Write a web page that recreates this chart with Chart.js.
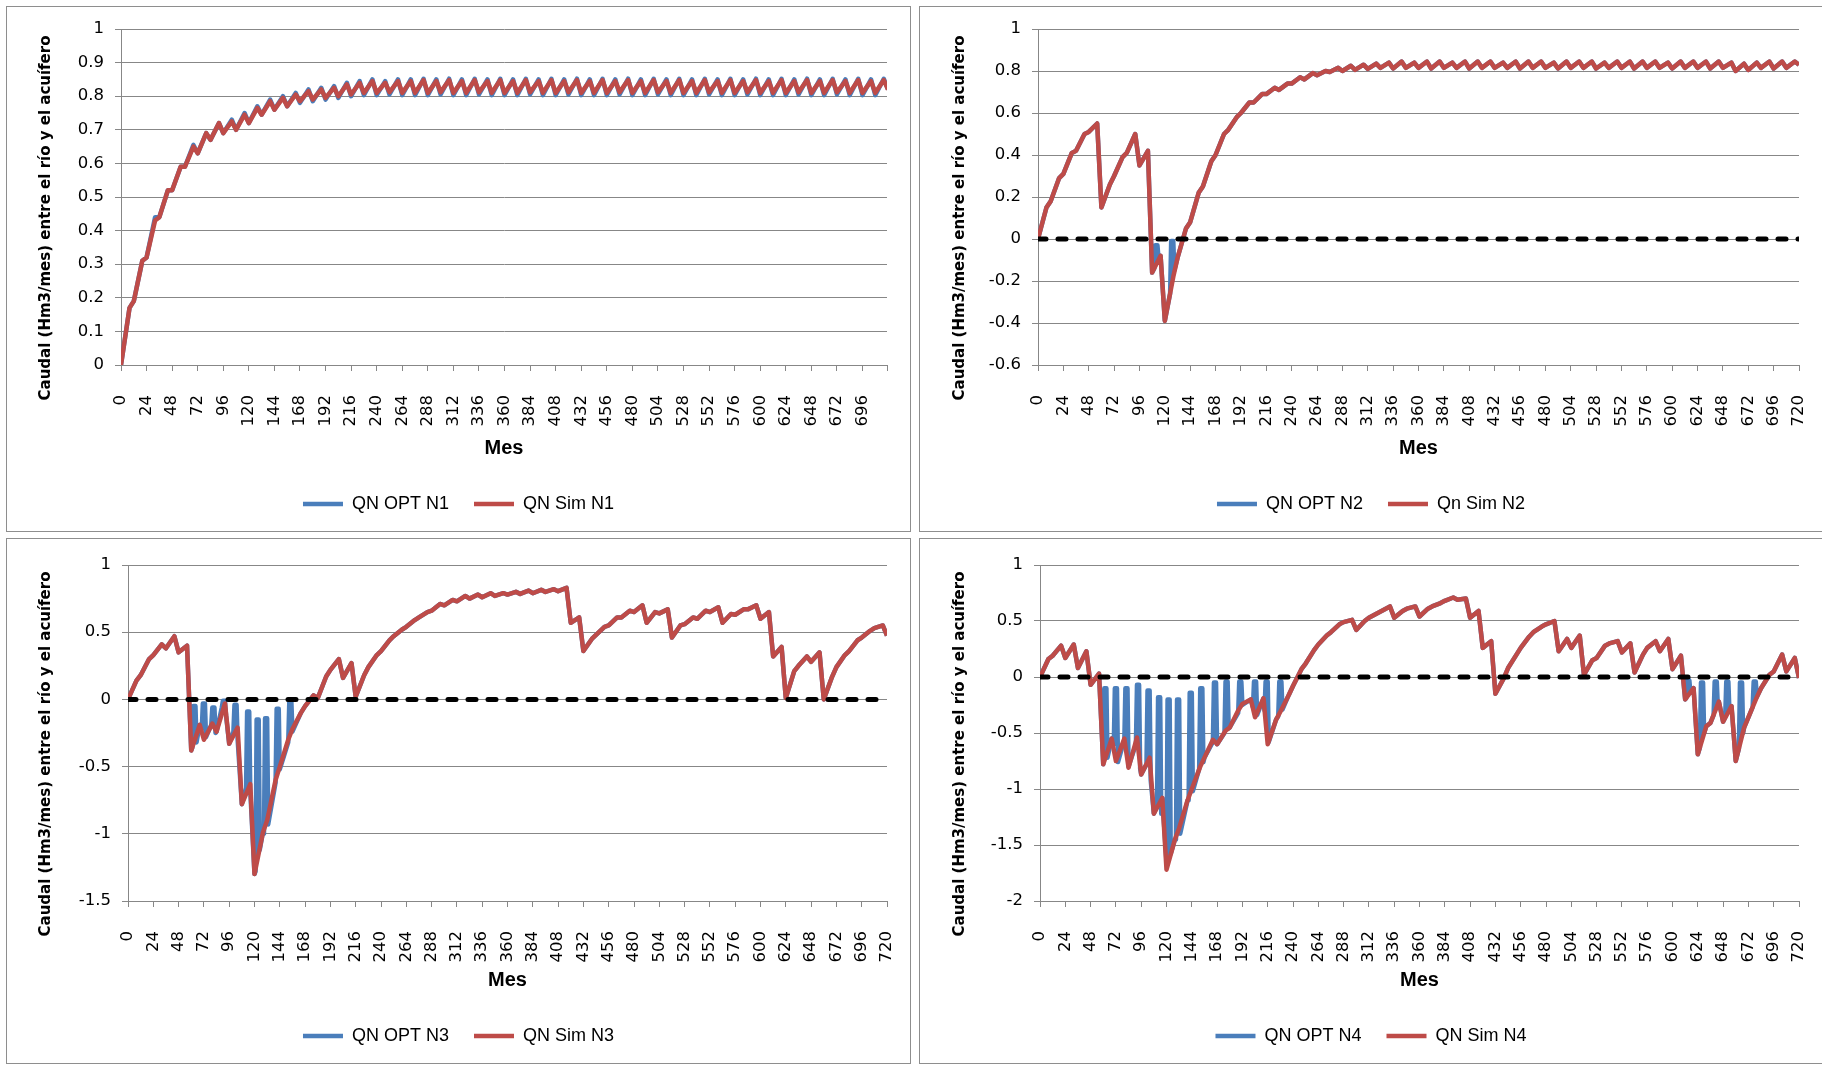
<!DOCTYPE html>
<html lang="es">
<head>
<meta charset="utf-8">
<title>Caudal entre el río y el acuífero</title>
<script src="https://cdn.jsdelivr.net/npm/chart.js@4.4.1/dist/chart.umd.min.js"></script>
<style>
  html, body { margin: 0; padding: 0; background: #fff; }
  body { width: 1822px; height: 1066px; position: relative; overflow: hidden; }
  .panel { position: absolute; box-sizing: border-box; border: 1px solid #8e8e8e; background: #fff; }
  .panel canvas { display: block; }
</style>
</head>
<body>
<div class="panel" style="left:6px;top:6px;width:905px;height:526px"><canvas id="graficoN1" width="903" height="524"></canvas></div>
<div class="panel" style="left:919px;top:6px;width:905px;height:526px"><canvas id="graficoN2" width="903" height="524"></canvas></div>
<div class="panel" style="left:6px;top:538px;width:905px;height:526px"><canvas id="graficoN3" width="903" height="524"></canvas></div>
<div class="panel" style="left:919px;top:538px;width:905px;height:526px"><canvas id="graficoN4" width="903" height="524"></canvas></div>
<script>
// Marcas del eje X (mes)
const mesTicks = [0, 24, 48, 72, 96, 120, 144, 168, 192, 216, 240, 264, 288, 312, 336, 360,
  384, 408, 432, 456, 480, 504, 528, 552, 576, 600, 624, 648, 672, 696, 720];

// Series: pares [valle, pico] por año (valle en el mes 12*año, pico en 12*año+8), último valor en el mes 720
const simN1 = [
  0.00, 0.17, 0.19, 0.31, 0.32, 0.43, 0.44, 0.52, 0.52, 0.59, 0.59, 0.65,
  0.63, 0.69, 0.67, 0.72, 0.69, 0.725, 0.70, 0.745, 0.72, 0.765, 0.745, 0.785,
  0.76, 0.795, 0.77, 0.805, 0.785, 0.815, 0.79, 0.82, 0.795, 0.825, 0.80, 0.835,
  0.805, 0.84, 0.81, 0.845, 0.81, 0.84, 0.812, 0.845, 0.81, 0.845, 0.81, 0.848,
  0.81, 0.845, 0.812, 0.848, 0.81, 0.845, 0.81, 0.848, 0.812, 0.845, 0.81, 0.848,
  0.81, 0.845, 0.81, 0.848, 0.812, 0.845, 0.81, 0.848, 0.81, 0.845, 0.812, 0.848,
  0.81, 0.845, 0.81, 0.848, 0.81, 0.845, 0.812, 0.848, 0.81, 0.845, 0.81, 0.848,
  0.812, 0.845, 0.81, 0.848, 0.81, 0.845, 0.81, 0.848, 0.812, 0.845, 0.81, 0.848,
  0.81, 0.845, 0.812, 0.848, 0.81, 0.845, 0.81, 0.848, 0.81, 0.845, 0.812, 0.848,
  0.81, 0.845, 0.81, 0.848, 0.812, 0.845, 0.81, 0.848, 0.81, 0.845, 0.81, 0.848,
  0.82
];
const optN1 = [
  0.00, 0.17, 0.19, 0.31, 0.32, 0.44, 0.44, 0.52, 0.52, 0.59, 0.59, 0.655,
  0.63, 0.69, 0.67, 0.72, 0.69, 0.73, 0.70, 0.75, 0.72, 0.77, 0.745, 0.79,
  0.76, 0.80, 0.77, 0.81, 0.78, 0.82, 0.785, 0.825, 0.79, 0.83, 0.795, 0.84,
  0.80, 0.845, 0.803, 0.85, 0.803, 0.845, 0.805, 0.85, 0.803, 0.85, 0.803, 0.852,
  0.803, 0.85, 0.805, 0.852, 0.803, 0.85, 0.803, 0.852, 0.805, 0.85, 0.803, 0.852,
  0.803, 0.85, 0.803, 0.852, 0.805, 0.85, 0.803, 0.852, 0.803, 0.85, 0.805, 0.852,
  0.803, 0.85, 0.803, 0.852, 0.803, 0.85, 0.805, 0.852, 0.803, 0.85, 0.803, 0.852,
  0.805, 0.85, 0.803, 0.852, 0.803, 0.85, 0.803, 0.852, 0.805, 0.85, 0.803, 0.852,
  0.803, 0.85, 0.805, 0.852, 0.803, 0.85, 0.803, 0.852, 0.803, 0.85, 0.805, 0.852,
  0.803, 0.85, 0.803, 0.852, 0.805, 0.85, 0.803, 0.852, 0.803, 0.85, 0.803, 0.852,
  0.82
];

const simN2 = [
  0.00, 0.15, 0.18, 0.29, 0.31, 0.41, 0.42, 0.50, 0.51, 0.55, 0.15, 0.26,
  0.30, 0.39, 0.41, 0.50, 0.35, 0.42, -0.16, -0.08, -0.39, -0.18, -0.09, 0.05,
  0.08, 0.22, 0.25, 0.37, 0.40, 0.50, 0.52, 0.58, 0.60, 0.65, 0.65, 0.69,
  0.69, 0.72, 0.71, 0.74, 0.74, 0.77, 0.76, 0.79, 0.78, 0.80, 0.795, 0.815,
  0.80, 0.825, 0.805, 0.83, 0.81, 0.835, 0.815, 0.84, 0.812, 0.845, 0.815, 0.84,
  0.815, 0.845, 0.812, 0.845, 0.815, 0.84, 0.815, 0.845, 0.812, 0.845, 0.815, 0.845,
  0.815, 0.84, 0.815, 0.845, 0.812, 0.845, 0.815, 0.845, 0.815, 0.84, 0.812, 0.845,
  0.815, 0.845, 0.815, 0.845, 0.812, 0.84, 0.815, 0.845, 0.815, 0.845, 0.812, 0.845,
  0.815, 0.845, 0.815, 0.84, 0.812, 0.845, 0.815, 0.845, 0.815, 0.845, 0.812, 0.845,
  0.815, 0.84, 0.80, 0.835, 0.805, 0.84, 0.815, 0.845, 0.812, 0.845, 0.815, 0.845,
  0.83
];
// Tramos en que QN OPT se separa de QN Sim: mes del tramo alto, valor antes, valor alto, valor después
const picoMesN2 = [111, 126];
const picoAntesN2 = [-0.14, -0.26];
const picoAltoN2 = [-0.03, -0.01];
const picoDespuesN2 = [-0.09, -0.15];

const simN3 = [
  0.00, 0.14, 0.18, 0.30, 0.33, 0.41, 0.38, 0.47, 0.35, 0.40, -0.38, -0.19,
  -0.30, -0.18, -0.24, -0.03, -0.33, -0.21, -0.78, -0.63, -1.30, -0.99, -0.90, -0.60,
  -0.50, -0.30, -0.22, -0.10, -0.05, 0.03, 0.01, 0.17, 0.22, 0.30, 0.16, 0.27,
  0.02, 0.18, 0.24, 0.33, 0.36, 0.44, 0.47, 0.52, 0.54, 0.59, 0.61, 0.65,
  0.66, 0.71, 0.70, 0.74, 0.73, 0.77, 0.75, 0.78, 0.76, 0.79, 0.77, 0.79,
  0.78, 0.80, 0.785, 0.81, 0.79, 0.815, 0.80, 0.82, 0.805, 0.83, 0.57, 0.61,
  0.36, 0.45, 0.48, 0.54, 0.55, 0.61, 0.61, 0.66, 0.65, 0.70, 0.57, 0.65,
  0.64, 0.67, 0.46, 0.55, 0.56, 0.61, 0.60, 0.66, 0.65, 0.685, 0.57, 0.635,
  0.63, 0.67, 0.67, 0.70, 0.60, 0.65, 0.32, 0.39, 0.01, 0.21, 0.25, 0.32,
  0.28, 0.35, 0.00, 0.17, 0.24, 0.33, 0.36, 0.44, 0.46, 0.51, 0.53, 0.55,
  0.475
];
const picoMesN3 = [62, 71, 80, 90, 101, 113, 122, 130, 141, 153];
const picoAntesN3 = [-0.36, -0.22, -0.19, -0.06, -0.24, -0.66, -1.28, -1.00, -0.62, -0.32];
const picoAltoN3 = [-0.05, -0.03, -0.06, -0.01, -0.04, -0.09, -0.15, -0.14, -0.07, -0.02];
const picoDespuesN3 = [-0.32, -0.28, -0.25, -0.12, -0.30, -0.68, -1.12, -0.93, -0.52, -0.24];

const simN4 = [
  0.00, 0.16, 0.19, 0.28, 0.17, 0.29, 0.08, 0.23, -0.07, 0.03, -0.78, -0.55,
  -0.75, -0.55, -0.81, -0.54, -0.87, -0.72, -1.22, -1.08, -1.72, -1.45, -1.35, -1.10,
  -1.00, -0.80, -0.72, -0.56, -0.60, -0.48, -0.45, -0.30, -0.24, -0.20, -0.36, -0.19,
  -0.60, -0.38, -0.31, -0.16, -0.08, 0.07, 0.12, 0.24, 0.29, 0.37, 0.40, 0.47,
  0.49, 0.51, 0.42, 0.50, 0.53, 0.57, 0.59, 0.63, 0.53, 0.59, 0.61, 0.63,
  0.54, 0.61, 0.63, 0.66, 0.68, 0.71, 0.69, 0.70, 0.53, 0.59, 0.26, 0.32,
  -0.15, -0.01, 0.08, 0.20, 0.26, 0.36, 0.40, 0.45, 0.47, 0.50, 0.23, 0.34,
  0.26, 0.37, 0.02, 0.15, 0.17, 0.28, 0.30, 0.32, 0.22, 0.30, 0.04, 0.20,
  0.26, 0.32, 0.23, 0.34, 0.07, 0.19, -0.20, -0.10, -0.69, -0.44, -0.41, -0.22,
  -0.40, -0.26, -0.75, -0.45, -0.36, -0.18, -0.10, 0.02, 0.05, 0.20, 0.05, 0.17,
  -0.01
];
const picoMesN4 = [61, 71, 81, 92, 102, 112, 121, 130, 142, 152, 165, 176, 189, 203, 214, 227,
  614, 627, 640, 651, 664, 677];
const picoAntesN4 = [-0.78, -0.60, -0.56, -0.60, -0.78, -1.15, -1.65, -1.45, -1.10, -0.82, -0.58, -0.50, -0.32, -0.27, -0.30, -0.35,
  -0.19, -0.63, -0.34, -0.36, -0.64, -0.27];
const picoAltoN4 = [-0.10, -0.10, -0.10, -0.07, -0.12, -0.18, -0.20, -0.20, -0.14, -0.10, -0.05, -0.04, -0.04, -0.04, -0.04, -0.04,
  -0.03, -0.05, -0.04, -0.04, -0.05, -0.04];
const picoDespuesN4 = [-0.72, -0.76, -0.80, -0.82, -0.92, -1.22, -1.58, -1.40, -1.02, -0.76, -0.60, -0.46, -0.25, -0.34, -0.58, -0.29,
  -0.14, -0.50, -0.26, -0.30, -0.50, -0.18];

// Línea de referencia en 0
const lineaCero = [0, 0];

const azul = '#4a7ebb';
const rojo = '#be4b48';
const gris = '#878787';
const fuenteEjes = '"DejaVu Sans", Verdana, sans-serif';
const fuenteTexto = '"Liberation Sans", Arial, sans-serif';
const tituloEjeY = 'Caudal (Hm3/mes) entre el río y el acuífero';

// valle en 12*año, pico en 12*año+8
const vertices = valores => valores.map((v, k) => ({ x: Math.floor(k / 2) * 12 + (k % 2) * 8, y: v }));

// QN OPT = QN Sim salvo en los tramos donde sube hacia 0
function conPicos(base, meses, antes, alto, despues) {
  const picos = [];
  meses.forEach((m, i) => {
    picos.push({ x: m - 1, y: antes[i] }, { x: m, y: alto[i] }, { x: m + 2, y: alto[i] }, { x: m + 3, y: despues[i] });
  });
  const resto = base.filter(p => !meses.some(m => p.x >= m - 1 && p.x <= m + 3));
  return resto.concat(picos).sort((a, b) => a.x - b.x);
}

const ceroPuntos = [{ x: mesTicks[0], y: lineaCero[0] }, { x: mesTicks[mesTicks.length - 1], y: lineaCero[1] }];

// Título del eje Y (centrado algo más abajo que el área de trazado, como en el original)
const tituloY = {
  id: 'tituloY',
  afterDraw(chart, args, o) {
    const { ctx, chartArea } = chart;
    ctx.save();
    ctx.translate(o.x, (chartArea.top + chartArea.bottom) / 2 + o.dy);
    ctx.rotate(-Math.PI / 2);
    ctx.font = 'bold 15px "DejaVu Sans"';
    ctx.fillStyle = '#000';
    ctx.textAlign = 'center';
    ctx.textBaseline = 'middle';
    ctx.fillText(o.texto, 0, 0);
    ctx.restore();
  }
};

const etiquetaY = v => String(Number(v.toFixed(2)));

function grafico(id, p) {
  const canvas = document.getElementById(id);
  const W = canvas.width, H = canvas.height;
  const padIzq = 23, padAbajo = 8;
  const marcas = mesTicks.filter(v => v <= p.fin);
  if (!marcas.includes(p.fin)) marcas.push(p.fin);

  const datasets = [
    { label: p.nombres[0], data: p.opt, borderColor: azul, backgroundColor: azul, pointBorderWidth: 4.5, order: 3 },
    { label: p.nombres[1], data: p.sim, borderColor: rojo, backgroundColor: rojo, pointBorderWidth: 4.5, order: 2 }
  ];
  if (p.cero) {
    datasets.push({ label: '', data: ceroPuntos, borderColor: '#000', borderWidth: 5, borderDash: [8, 12], borderCapStyle: 'round', order: 1 });
  }

  const chart = new Chart(canvas, {
    type: 'line',
    data: { datasets },
    options: {
      responsive: false,
      animation: false,
      events: [],
      elements: {
        point: { radius: 0 },
        line: { borderWidth: 4.5, tension: 0, borderJoinStyle: 'round' }
      },
      layout: { padding: { left: padIzq, right: W - p.area.right, top: p.area.top, bottom: padAbajo } },
      scales: {
        x: {
          type: 'linear',
          min: 0,
          max: p.fin,
          afterBuildTicks: s => { s.ticks = marcas.map(v => ({ value: v })); },
          afterFit: s => {
            const leg = s.chart.legend;
            s.height = H - padAbajo - (leg ? leg.height : 0) - p.area.bottom;
            s.paddingLeft = 0;
            s.paddingRight = 0;
          },
          grid: { drawOnChartArea: false, color: gris, tickLength: 6 },
          border: { color: gris, width: 1 },
          ticks: {
            autoSkip: false, minRotation: 90, maxRotation: 90, padding: 24, color: '#000',
            font: { family: fuenteEjes, size: 16.5 },
            callback: v => mesTicks.includes(v) ? String(v) : ''
          },
          title: {
            display: true, text: 'Mes', color: '#000',
            font: { family: fuenteTexto, size: 20, weight: 'bold' },
            padding: { top: 0, bottom: 10 }
          }
        },
        y: {
          min: p.yMin,
          max: p.yMax,
          afterFit: s => {
            s.width = p.area.left - padIzq;
            s.paddingTop = 0;
            s.paddingBottom = 0;
          },
          grid: { color: gris, tickLength: 6 },
          border: { color: gris },
          ticks: { stepSize: p.paso, padding: 11, color: '#000', font: { family: fuenteEjes, size: 16.5 }, callback: etiquetaY }
        }
      },
      plugins: {
        legend: {
          position: 'bottom',
          labels: {
            usePointStyle: true, pointStyle: 'line', pointStyleWidth: 40,
            color: '#000', padding: 25,
            font: { family: fuenteTexto, size: 18 },
            filter: it => it.datasetIndex < 2,
            sort: (a, b) => a.datasetIndex - b.datasetIndex
          }
        },
        tooltip: { enabled: false },
        tituloY: { texto: tituloEjeY, x: p.tituloX, dy: 21 }
      }
    },
    plugins: [tituloY]
  });
  chart.update();
  return chart;
}

const simV1 = vertices(simN1), simV2 = vertices(simN2), simV3 = vertices(simN3), simV4 = vertices(simN4);

grafico('graficoN1', {
  fin: 719, yMin: 0, yMax: 1, paso: 0.1, cero: false, tituloX: 39,
  area: { left: 114, right: 880, top: 22, bottom: 358 },
  nombres: ['QN OPT N1', 'QN Sim N1'],
  opt: vertices(optN1), sim: simV1
});
grafico('graficoN2', {
  fin: 720, yMin: -0.6, yMax: 1, paso: 0.2, cero: true, tituloX: 40,
  area: { left: 118, right: 879, top: 22, bottom: 358 },
  nombres: ['QN OPT N2', 'Qn Sim N2'],
  opt: conPicos(simV2, picoMesN2, picoAntesN2, picoAltoN2, picoDespuesN2), sim: simV2
});
grafico('graficoN3', {
  fin: 720, yMin: -1.5, yMax: 1, paso: 0.5, cero: true, tituloX: 39,
  area: { left: 121, right: 880, top: 26, bottom: 362 },
  nombres: ['QN OPT N3', 'QN Sim N3'],
  opt: conPicos(simV3, picoMesN3, picoAntesN3, picoAltoN3, picoDespuesN3), sim: simV3
});
grafico('graficoN4', {
  fin: 720, yMin: -2, yMax: 1, paso: 0.5, cero: true, tituloX: 40,
  area: { left: 120, right: 879, top: 26, bottom: 362 },
  nombres: ['QN OPT N4', 'QN Sim N4'],
  opt: conPicos(simV4, picoMesN4, picoAntesN4, picoAltoN4, picoDespuesN4), sim: simV4
});
</script>
</body>
</html>
